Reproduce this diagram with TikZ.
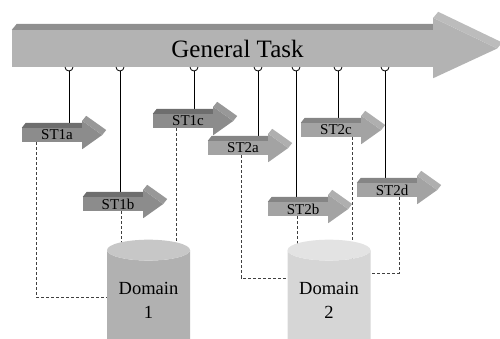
\documentclass[tikz,border=0pt]{standalone}
\usepackage{fontspec}
\setmainfont{Liberation Serif}
\usetikzlibrary{shapes.geometric, calc, backgrounds}

\definecolor{frontbig}{HTML}{B3B3B3}
\definecolor{topbig}{HTML}{8F8F8F}
\definecolor{headbig}{HTML}{BCBCBC}
\definecolor{frontone}{HTML}{8C8C8C}
\definecolor{topone}{HTML}{6E6E6E}
\definecolor{headone}{HTML}{989898}
\definecolor{fronttwo}{HTML}{A3A3A3}
\definecolor{toptwo}{HTML}{858585}
\definecolor{headtwo}{HTML}{AFAFAF}
\definecolor{bodyone}{HTML}{B1B1B1}
\definecolor{endone}{HTML}{C7C7C7}
\definecolor{bodytwo}{HTML}{D6D6D6}
\definecolor{endtwo}{HTML}{E3E3E3}

\tikzset{
  subtask/.style={fill=#1, inner sep=0pt, minimum width=60pt, minimum height=14pt,
    font=\fontsize{15}{15}\selectfont, execute at begin node={\hspace*{10pt}}},
  domain/.style 2 args={cylinder, shape border rotate=90, aspect=0.35,
    minimum width=83pt, minimum height=110pt, inner sep=0pt,
    cylinder uses custom fill, cylinder body fill=#1, cylinder end fill=#2,
    align=center, font=\fontsize{18.5}{24}\selectfont},
  wire/.style={line width=0.8pt},
  link/.style={dash pattern=on 3pt off 2pt, line width=0.6pt, draw=black!75},
}

\begin{document}
\begin{tikzpicture}[x=1pt, y=-1pt]
\useasboundingbox (0,0) rectangle (500,338);

\node[fill=frontbig, inner sep=0pt, minimum width=421pt, minimum height=37pt,
  font=\fontsize{25}{25}\selectfont, execute at begin node={\hspace*{30pt}}] (gt) at (222.5,48.5) {General Task};
\fill[topbig] (gt.north west) -- ++(5,-6) -- ([shift={(5,-6)}]gt.north east) -- (gt.north east) -- cycle;
\fill[frontbig] (gt.north east) -- ++(0,-12) -- ($(gt.east)+(64,0)$) -- ($(gt.south east)+(0,11)$) -- (gt.south east) -- cycle;
\fill[headbig] ($(gt.north east)+(0,-12)$) -- ++(5,-6) -- ($(gt.east)+(69,-6)$) -- ($(gt.east)+(64,0)$) -- cycle;

\node[subtask=frontone] (st1a) at (52,135) {ST1a};
\node[subtask=frontone] (st1b) at (113,204) {ST1b};
\node[subtask=frontone] (st1c) at (183,121) {ST1c};
\node[subtask=fronttwo] (st2a) at (238,148) {ST2a};
\node[subtask=fronttwo] (st2b) at (298,209) {ST2b};
\node[subtask=fronttwo] (st2c) at (331,130) {ST2c};
\node[subtask=fronttwo] (st2d) at (387,190) {ST2d};

\foreach \n/\g in {st1a/one, st1b/one, st1c/one, st2a/two, st2b/two, st2c/two, st2d/two} {
  \fill[fill=top\g] (\n.north west) -- ++(4,-5) -- ([shift={(4,-5)}]\n.north east) -- (\n.north east) -- cycle;
  \fill[fill=front\g] (\n.north east) -- ++(0,-7) -- ($(\n.east)+(20,0)$) -- ($(\n.south east)+(0,7)$) -- (\n.south east) -- cycle;
  \fill[fill=head\g] ($(\n.north east)+(0,-7)$) -- ++(4,-5) -- ($(\n.east)+(24,-5)$) -- ($(\n.east)+(20,0)$) -- cycle;
}

\node[domain={bodyone}{endone}] (dom1) at (148.5,300) {Domain\\1};
\node[domain={bodytwo}{endtwo}] (dom2) at (329,300) {Domain\\2};

\foreach \i/\x in {1/69, 2/120, 3/194, 4/258, 5/296, 6/338, 7/385} {
  \coordinate (p\i) at (\x,67);
  \draw[wire] ([xshift=-4pt]p\i) arc[start angle=180, end angle=360, radius=4pt];
}

\begin{scope}[on background layer]
  \draw[wire] ([yshift=-4pt]p1) -- (p1 |- st1a.north);
  \draw[wire] ([yshift=-4pt]p2) -- (p2 |- st1b.north);
  \draw[wire] ([yshift=-4pt]p3) -- (p3 |- st1c.north);
  \draw[wire] ([yshift=-4pt]p4) -- (p4 |- st2a.north);
  \draw[wire] ([yshift=-4pt]p5) -- (p5 |- st2b.north);
  \draw[wire] ([yshift=-4pt]p6) -- (p6 |- st2c.north);
  \draw[wire] ([yshift=-4pt]p7) -- (p7 |- st2d.north);

  \draw[link] ([xshift=-16pt]st1a.south) |- ([yshift=3pt]dom1.center);
  \draw[link] ([xshift=8pt]st1b.south) |- (dom1.center);
  \draw[link] ([xshift=-7pt]st1c.south) |- (dom1.center);
  \draw[link] ([xshift=3pt]st2a.south) |- ([yshift=22pt]dom2.center);
  \draw[link] ([xshift=-1pt]st2b.south) |- (dom2.center);
  \draw[link] ([xshift=21pt]st2c.south) |- (dom2.center);
  \draw[link] ([xshift=12pt]st2d.south) |- ([yshift=27pt]dom2.center);
\end{scope}
\end{tikzpicture}
\end{document}
